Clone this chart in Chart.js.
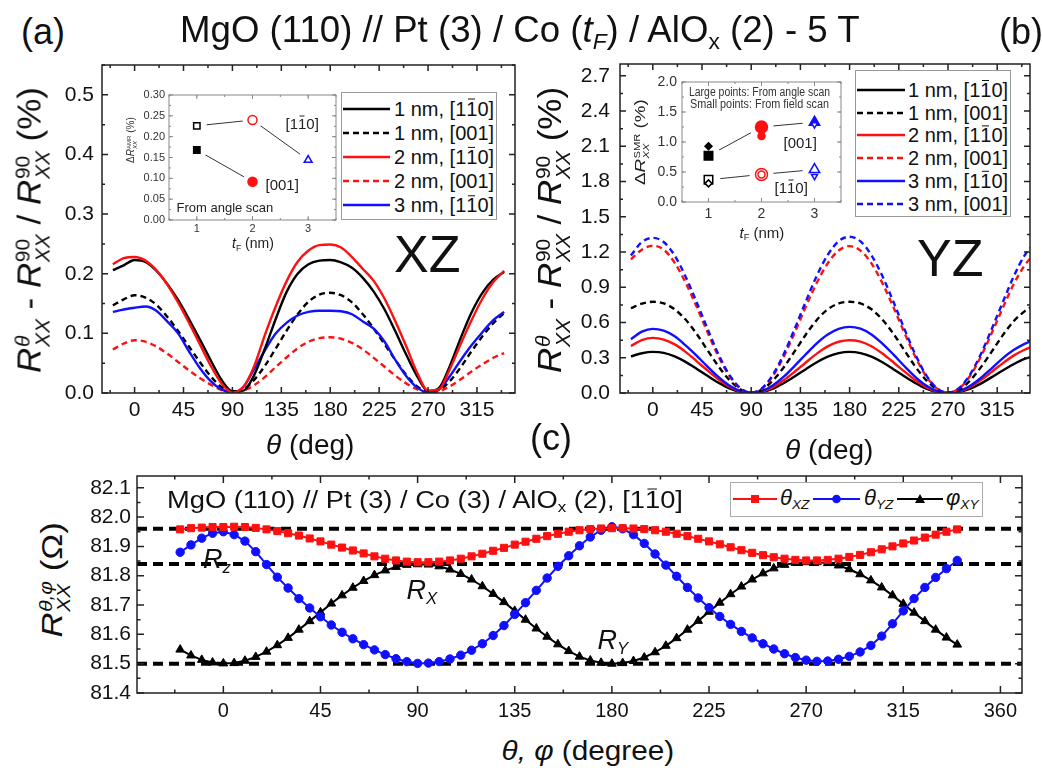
<!DOCTYPE html>
<html>
<head>
<meta charset="utf-8">
<script src="https://cdn.jsdelivr.net/npm/chart.js@4.4.1/dist/chart.umd.min.js"></script>
<style>
  html, body { margin: 0; padding: 0; background: #fff; }
  #fig { position: relative; width: 1042px; height: 768px; overflow: hidden; font-family: 'Liberation Sans', Arial, sans-serif; color: #111; }
  .cv { position: absolute; }
  .txt { position: absolute; left: 0; top: 0; white-space: nowrap; line-height: 1; transform-origin: 50% 50%; }
  .ss { display: inline-block; font-size: 0.6em; line-height: 0.95; vertical-align: -0.42em; text-align: left; margin-left: 0.03em; }
  .ss > * { display: block; }
  sub { font-size: 0.62em; vertical-align: -0.32em; line-height: 0; }
  .ov { position: relative; }
  .ov::before { content: ''; position: absolute; left: 0.1em; right: 0.1em; top: 0.07em; border-top: 0.075em solid currentColor; }
  .leg { position: absolute; background: #fff; border: 1.5px solid #999; box-sizing: border-box; }
  svg.smp { position: absolute; overflow: visible; }
</style>
</head>
<body>
<div id="fig"></div>
<script>
// ---- panel (a): XZ scan, 10 deg steps ----
var thetaA = [-20, -10, 0, 10, 20, 30, 40, 50, 60, 70, 80, 90, 100, 110, 120, 130, 140, 150, 160, 170, 180,
              190, 200, 210, 220, 230, 240, 250, 260, 270, 280, 290, 300, 310, 320, 330, 340];
var xz1nm110 = [0.206, 0.214, 0.223, 0.220, 0.205, 0.183, 0.156, 0.124, 0.090, 0.055, 0.022, 0.003, 0.004, 0.030, 0.075, 0.125, 0.170, 0.200, 0.216, 0.222, 0.223,
                0.219, 0.210, 0.193, 0.170, 0.140, 0.103, 0.064, 0.028, 0.003, 0.008, 0.045, 0.092, 0.135, 0.168, 0.190, 0.203];
var xz1nm001 = [0.147, 0.157, 0.164, 0.160, 0.148, 0.128, 0.104, 0.078, 0.052, 0.028, 0.010, 0.001, 0.006, 0.022, 0.046, 0.075, 0.105, 0.132, 0.153, 0.165, 0.168,
                0.164, 0.152, 0.132, 0.108, 0.082, 0.055, 0.030, 0.011, 0.002, 0.005, 0.020, 0.043, 0.070, 0.095, 0.117, 0.134];
var xz2nm110 = [0.216, 0.226, 0.228, 0.222, 0.206, 0.182, 0.152, 0.118, 0.082, 0.046, 0.016, 0.001, 0.010, 0.045, 0.098, 0.146, 0.188, 0.220, 0.239, 0.248, 0.249,
                0.244, 0.228, 0.208, 0.188, 0.158, 0.120, 0.078, 0.034, 0.004, 0.006, 0.040, 0.082, 0.122, 0.158, 0.186, 0.205];
var xz2nm001 = [0.073, 0.083, 0.0885, 0.086, 0.078, 0.066, 0.052, 0.038, 0.025, 0.014, 0.005, 0.001, 0.004, 0.013, 0.027, 0.044, 0.060, 0.075, 0.086, 0.092, 0.0935,
                0.091, 0.084, 0.073, 0.059, 0.044, 0.029, 0.016, 0.006, 0.001, 0.003, 0.011, 0.023, 0.036, 0.048, 0.059, 0.067];
var xz3nm110 = [0.136, 0.140, 0.143, 0.145, 0.138, 0.120, 0.100, 0.070, 0.042, 0.020, 0.006, 0.001, 0.010, 0.040, 0.072, 0.100, 0.118, 0.130, 0.136, 0.138, 0.138,
                0.137, 0.132, 0.120, 0.108, 0.086, 0.055, 0.028, 0.009, 0.001, 0.006, 0.028, 0.055, 0.080, 0.102, 0.122, 0.136];

// ---- panel (b): YZ scan ----
var thetaB = [-20, -10, 0, 10, 20, 30, 40, 50, 60, 70, 80, 90, 100, 110, 120, 130, 140, 150, 160, 170, 180,
              190, 200, 210, 220, 230, 240, 250, 260, 270, 280, 290, 300, 310, 320, 330, 340, 350];
var yz1nm110 = [0.312, 0.338, 0.350, 0.342, 0.312, 0.265, 0.207, 0.146, 0.088, 0.040, 0.010, 0.001, 0.009, 0.038, 0.085, 0.142, 0.203, 0.262, 0.310, 0.340, 0.350,
                0.340, 0.310, 0.262, 0.203, 0.142, 0.085, 0.038, 0.009, 0.001, 0.009, 0.036, 0.080, 0.135, 0.192, 0.245, 0.290, 0.318];
var yz1nm001 = [0.722, 0.760, 0.776, 0.762, 0.712, 0.625, 0.505, 0.365, 0.228, 0.112, 0.032, 0.002, 0.030, 0.108, 0.222, 0.358, 0.498, 0.622, 0.712, 0.762, 0.776,
                0.762, 0.712, 0.625, 0.505, 0.365, 0.226, 0.110, 0.030, 0.002, 0.028, 0.105, 0.218, 0.352, 0.490, 0.610, 0.695, 0.750];
var yz2nm110 = [0.400, 0.450, 0.469, 0.455, 0.414, 0.350, 0.272, 0.192, 0.116, 0.053, 0.013, 0.001, 0.012, 0.050, 0.110, 0.183, 0.260, 0.335, 0.397, 0.436, 0.449,
                0.437, 0.398, 0.336, 0.262, 0.184, 0.110, 0.050, 0.012, 0.001, 0.012, 0.050, 0.110, 0.180, 0.252, 0.318, 0.368, 0.405];
var yz2nm001 = [1.137, 1.220, 1.253, 1.220, 1.108, 0.940, 0.736, 0.518, 0.313, 0.146, 0.038, 0.002, 0.038, 0.147, 0.314, 0.518, 0.735, 0.938, 1.104, 1.213, 1.250,
                1.212, 1.103, 0.935, 0.732, 0.515, 0.310, 0.144, 0.037, 0.002, 0.037, 0.143, 0.308, 0.510, 0.722, 0.925, 1.085, 1.195];
var yz3nm110 = [0.458, 0.522, 0.546, 0.530, 0.482, 0.405, 0.318, 0.225, 0.137, 0.064, 0.017, 0.001, 0.017, 0.066, 0.141, 0.233, 0.330, 0.422, 0.497, 0.546, 0.563,
                0.547, 0.498, 0.420, 0.328, 0.230, 0.138, 0.064, 0.016, 0.001, 0.015, 0.060, 0.128, 0.210, 0.295, 0.365, 0.418, 0.458];
var yz3nm001 = [1.170, 1.285, 1.320, 1.285, 1.170, 0.990, 0.775, 0.548, 0.330, 0.155, 0.042, 0.003, 0.042, 0.158, 0.335, 0.552, 0.780, 0.998, 1.175, 1.292, 1.330,
                1.290, 1.172, 0.995, 0.778, 0.548, 0.330, 0.152, 0.040, 0.003, 0.040, 0.155, 0.330, 0.545, 0.770, 0.990, 1.170, 1.280];

// ---- panel (c): 3 nm, [1-10], 5 deg steps ----
var thetaC = [-20, -15, -10, -5, 0, 5, 10, 15, 20, 25, 30, 35, 40, 45, 50, 55, 60, 65, 70, 75, 80, 85, 90,
              95, 100, 105, 110, 115, 120, 125, 130, 135, 140, 145, 150, 155, 160, 165, 170, 175, 180,
              185, 190, 195, 200, 205, 210, 215, 220, 225, 230, 235, 240, 245, 250, 255, 260, 265, 270,
              275, 280, 285, 290, 295, 300, 305, 310, 315, 320, 325, 330, 335, 340];
var rThetaXZ = [81.958, 81.962, 81.964, 81.966, 81.966, 81.967, 81.966, 81.963, 81.958, 81.952, 81.945, 81.937, 81.927, 81.917, 81.906, 81.896, 81.886, 81.876, 81.866, 81.858, 81.852, 81.848, 81.846,
                81.846, 81.848, 81.852, 81.858, 81.866, 81.875, 81.885, 81.895, 81.906, 81.916, 81.926, 81.935, 81.943, 81.950, 81.955, 81.959, 81.961, 81.962,
                81.962, 81.961, 81.959, 81.955, 81.950, 81.943, 81.935, 81.926, 81.917, 81.907, 81.897, 81.887, 81.878, 81.870, 81.863, 81.858, 81.854, 81.852,
                81.852, 81.854, 81.858, 81.864, 81.871, 81.880, 81.890, 81.900, 81.910, 81.920, 81.930, 81.940, 81.950, 81.958];
var rThetaYZ = [81.880, 81.905, 81.928, 81.945, 81.950, 81.940, 81.918, 81.882, 81.838, 81.795, 81.758, 81.722, 81.690, 81.660, 81.632, 81.607, 81.585, 81.565, 81.547, 81.531, 81.517, 81.507, 81.501,
                81.502, 81.507, 81.516, 81.529, 81.546, 81.568, 81.596, 81.630, 81.668, 81.708, 81.750, 81.792, 81.832, 81.868, 81.902, 81.932, 81.955, 81.967,
                81.960, 81.940, 81.910, 81.874, 81.836, 81.798, 81.760, 81.724, 81.691, 81.661, 81.634, 81.610, 81.588, 81.568, 81.550, 81.534, 81.521, 81.512,
                81.508, 81.509, 81.515, 81.525, 81.540, 81.562, 81.594, 81.636, 81.680, 81.722, 81.760, 81.794, 81.824, 81.852];
var rPhiXY = [81.548, 81.528, 81.513, 81.504, 81.501, 81.502, 81.510, 81.523, 81.541, 81.563, 81.588, 81.616, 81.645, 81.675, 81.705, 81.733, 81.759, 81.782, 81.802, 81.818, 81.830, 81.837, 81.839,
              81.838, 81.832, 81.821, 81.806, 81.787, 81.764, 81.738, 81.710, 81.680, 81.650, 81.620, 81.592, 81.566, 81.543, 81.524, 81.511, 81.503, 81.500,
              81.502, 81.509, 81.521, 81.539, 81.561, 81.587, 81.616, 81.646, 81.677, 81.708, 81.737, 81.763, 81.787, 81.808, 81.825, 81.837, 81.844, 81.846,
              81.846, 81.843, 81.835, 81.822, 81.805, 81.784, 81.760, 81.733, 81.704, 81.674, 81.645, 81.616, 81.589, 81.565];
var refLevels = [81.96, 81.84, 81.50];   // R_z, R_x, R_y

// ---- insets ----
var insetTF = [1, 2, 3];
var amr110 = [0.226, 0.240, 0.144];
var amr001 = [0.168, 0.092];
var smrAngle001 = [0.77, 1.25, 1.33];
var smrField001 = [0.93, 1.10, 1.29];
var smrAngle110 = [0.37, 0.46, 0.54];
var smrField110 = [0.31, 0.46, 0.43];

// ---- ticks ----
var thetaTicksAB = [0, 45, 90, 135, 180, 225, 270, 315];
var thetaTicksC = [0, 45, 90, 135, 180, 225, 270, 315, 360];
var yTicksA = [0, 0.1, 0.2, 0.3, 0.4, 0.5];
var yTicksB = [0, 0.3, 0.6, 0.9, 1.2, 1.5, 1.8, 2.1, 2.4, 2.7];
var yTicksC = [81.4, 81.5, 81.6, 81.7, 81.8, 81.9, 82.0, 82.1];
var tfTicks = [1, 2, 3];
var yTicksInsA = [0, 0.05, 0.10, 0.15, 0.20, 0.25, 0.30];
var yTicksInsB = [0, 0.5, 1.0, 1.5, 2.0];

var RED = '#ff1010', BLUE = '#1010ff', BLK = '#000';
var FONT = "'Liberation Sans', Arial, sans-serif";
var fig = document.getElementById('fig');

function pts(xs, ys) {
    return ys.map(function(y, i) { return { x: xs[i], y: y }; });
}

// frame with inward major/minor ticks on all four sides
var frameTicks = {
    id: 'frameTicks',
    afterDatasetsDraw: function(chart, args, o) {
        var ctx = chart.ctx, a = chart.chartArea;
        ctx.save();
        ctx.strokeStyle = o.color;
        ctx.lineWidth = o.width;
        ctx.beginPath();
        var mark = function(scale, step, len) {
            var first = scale.ticks[0].value;
            var v = first - Math.floor((first - scale.min) / step + 1e-6) * step;
            for (; v <= scale.max + 1e-9; v += step) {
                var p = scale.getPixelForValue(v);
                if (scale.isHorizontal()) {
                    ctx.moveTo(p, a.bottom); ctx.lineTo(p, a.bottom - len);
                    ctx.moveTo(p, a.top); ctx.lineTo(p, a.top + len);
                } else {
                    ctx.moveTo(a.left, p); ctx.lineTo(a.left + len, p);
                    ctx.moveTo(a.right, p); ctx.lineTo(a.right - len, p);
                }
            }
        };
        [chart.scales.x, chart.scales.y].forEach(function(s) {
            var step = s.ticks[1].value - s.ticks[0].value;
            mark(s, step, o.len);
            mark(s, step / 2, o.minorLen);
        });
        ctx.stroke();
        ctx.strokeRect(a.left, a.top, a.right - a.left, a.bottom - a.top);
        ctx.restore();
    }
};

function makeChart(box, datasets, c) {
    var cv = document.createElement('canvas');
    cv.width = box.w; cv.height = box.h;
    cv.className = 'cv';
    cv.style.left = box.x + 'px'; cv.style.top = box.y + 'px';
    fig.appendChild(cv);
    return new Chart(cv, {
        type: 'line',
        data: { datasets: datasets },
        options: {
            responsive: false, animation: false, events: [],
            layout: { padding: c.pad },
            plugins: { legend: { display: false }, tooltip: { enabled: false }, frameTicks: c.frame },
            scales: {
                x: {
                    type: 'linear', min: c.xMin, max: c.xMax,
                    grid: { display: false, drawTicks: false }, border: { display: false },
                    ticks: { padding: c.xPad, font: { family: FONT, size: c.xFont }, color: c.tickColor || '#111', maxRotation: 0, autoSkip: false,
                             callback: function(v) { return c.xFmt ? c.xFmt(v) : String(v); } },
                    afterBuildTicks: function(s) { s.ticks = c.xTicks.map(function(v) { return { value: v }; }); },
                    afterFit: function(s) { s.height = c.xH; s.paddingLeft = 0; s.paddingRight = 0; }
                },
                y: {
                    type: 'linear', min: c.yMin, max: c.yMax,
                    grid: { display: false, drawTicks: false }, border: { display: false },
                    ticks: { padding: c.yPad, font: { family: FONT, size: c.yFont }, color: c.tickColor || '#111', autoSkip: false,
                             callback: function(v) { return v.toFixed(c.yDec); } },
                    afterBuildTicks: function(s) { s.ticks = c.yTicks.map(function(v) { return { value: v }; }); },
                    afterFit: function(s) { s.width = c.yW; s.paddingTop = 0; s.paddingBottom = 0; }
                }
            }
        },
        plugins: [frameTicks]
    });
}

function curve(xs, ys, color, dashed) {
    return { data: pts(xs, ys), borderColor: color, borderWidth: 2.4, borderDash: dashed ? [6, 4] : [],
             pointRadius: 0, cubicInterpolationMode: 'monotone', fill: false };
}

var mainFrame = { color: '#222', width: 1.5, len: 6, minorLen: 3 };
var insetFrame = { color: '#888', width: 1, len: 4, minorLen: 2 };

// (a)
makeChart({ x: 40, y: 55, w: 490, h: 390 }, [
    curve(thetaA, xz2nm110, RED, false),
    curve(thetaA, xz1nm110, BLK, false),
    curve(thetaA, xz3nm110, BLUE, false),
    curve(thetaA, xz1nm001, BLK, true),
    curve(thetaA, xz2nm001, RED, true)
], { pad: { top: 10, right: 15, left: 0, bottom: 0 }, xMin: -30, xMax: 350, yMin: 0, yMax: 0.55,
     xTicks: thetaTicksAB, yTicks: yTicksA, yDec: 1, xFont: 21, yFont: 21, xPad: 5, yPad: 8, xH: 52, yW: 62, frame: mainFrame });

// (b)
makeChart({ x: 560, y: 54, w: 480, h: 391 }, [
    curve(thetaB, yz3nm001, BLUE, true),
    curve(thetaB, yz2nm001, RED, true),
    curve(thetaB, yz1nm001, BLK, true),
    curve(thetaB, yz3nm110, BLUE, false),
    curve(thetaB, yz2nm110, RED, false),
    curve(thetaB, yz1nm110, BLK, false)
], { pad: { top: 10, right: 10, left: 0, bottom: 0 }, xMin: -30, xMax: 345, yMin: 0, yMax: 2.8,
     xTicks: thetaTicksAB, yTicks: yTicksB, yDec: 1, xFont: 21, yFont: 21, xPad: 5, yPad: 10, xH: 52, yW: 60, frame: mainFrame });

// (c)
var xMinC = -40, xMaxC = 370;
var refSets = refLevels.map(function(lv) {
    return { data: [{ x: xMinC, y: lv }, { x: xMaxC, y: lv }], borderColor: BLK, borderWidth: 4, borderDash: [10, 6],
             pointRadius: 0, order: 5 };
});
function marked(ys, color, style, r) {
    return { data: pts(thetaC, ys), borderColor: color, backgroundColor: color, borderWidth: 2, tension: 0,
             pointStyle: style, pointRadius: r, pointBorderWidth: 1, pointBackgroundColor: color, order: 1 };
}
makeChart({ x: 80, y: 466, w: 952, h: 260 }, [
    marked(rThetaXZ, RED, 'rect', 5),
    marked(rThetaYZ, BLUE, 'circle', 4.2),
    marked(rPhiXY, BLK, 'triangle', 5)
].concat(refSets), { pad: { top: 10, right: 10, left: 0, bottom: 0 }, xMin: xMinC, xMax: xMaxC, yMin: 81.4, yMax: 82.14,
     xTicks: thetaTicksC, yTicks: yTicksC, yDec: 1, xFont: 20, yFont: 21, xPad: 6, yPad: 6, xH: 33, yW: 57,
     frame: { color: '#222', width: 1.5, len: 7, minorLen: 3.5 } });

// inset helpers
function markers(xs, ys, styles, colors, fill, r, rot) {
    return { data: pts(xs, ys), showLine: false, pointStyle: styles, pointRadius: r, pointBorderWidth: 1.5,
             pointBorderColor: colors, pointBackgroundColor: fill || colors, pointRotation: rot || 0, order: 0 };
}
function halo(xs, ys, r) {
    return { data: pts(xs, ys), showLine: false, pointStyle: 'circle', pointRadius: r, pointBorderWidth: 0,
             pointBackgroundColor: '#fff', order: 1 };
}
function joiner(xs, ys) {
    return { data: pts(xs, ys), borderColor: '#333', borderWidth: 1, pointRadius: 0, tension: 0, order: 2 };
}

// inset (a)
makeChart({ x: 135, y: 85, w: 211, h: 153 }, [
    markers(insetTF, amr110, ['rect', 'circle', 'triangle'], [BLK, RED, BLUE], '#fff', 4.5),
    markers(insetTF, amr001, ['rect', 'circle'], [BLK, RED], null, 4.5),
    halo(insetTF, amr110, 10), halo(insetTF, amr001, 10),
    joiner(insetTF, amr110), joiner(insetTF, amr001)
], { pad: { top: 7, right: 10, left: 0, bottom: 0 }, xMin: 0.5, xMax: 3.5, yMin: 0, yMax: 0.30,
     xTicks: tfTicks, yTicks: yTicksInsA, yDec: 2, xFont: 11, yFont: 11, xPad: 2, yPad: 4, xH: 18, yW: 34,
     tickColor: '#333', frame: insetFrame });

// inset (b)
makeChart({ x: 645, y: 70, w: 208, h: 150 }, [
    markers(insetTF, smrField001, ['rectRot', 'circle', 'triangle'], [BLK, RED, BLUE], [BLK, RED, '#fff'], 3.5, [0, 0, 180]),
    markers(insetTF, smrField110, ['rectRot', 'circle', 'triangle'], [BLK, RED, BLUE], '#fff', 3.5, [0, 0, 180]),
    markers(insetTF, smrAngle001, ['rect', 'circle', 'triangle'], [BLK, RED, BLUE], null, 6),
    markers(insetTF, smrAngle110, ['rect', 'circle', 'triangle'], [BLK, RED, BLUE], '#fff', 6),
    halo(insetTF, smrAngle001, 12), halo(insetTF, smrAngle110, 12),
    joiner(insetTF, smrAngle001), joiner(insetTF, smrAngle110)
], { pad: { top: 8, right: 10, left: 0, bottom: 0 }, xMin: 0.5, xMax: 3.5, yMin: 0, yMax: 2.0,
     xTicks: tfTicks, yTicks: yTicksInsB, yDec: 1, xFont: 14, yFont: 14, xPad: 4, yPad: 5, xH: 18, yW: 37,
     tickColor: '#333', frame: insetFrame });

// ---- text ----
function place(html, x, y, size, o) {
    o = o || {};
    var el = document.createElement('div');
    el.className = 'txt';
    el.innerHTML = html;
    el.style.fontSize = size + 'px';
    if (o.color) el.style.color = o.color;
    fig.appendChild(el);
    var w = el.offsetWidth, h = el.offsetHeight;
    var k = o.len ? o.len / w : 1;
    var cx = o.left ? x + w * k / 2 : x;
    el.style.transform = 'translate(' + (cx - w / 2) + 'px,' + (y - h / 2) + 'px) rotate(' + (o.rot || 0) + 'deg) scaleX(' + k + ')';
    return el;
}
function sample(x1, x2, cy, color, dashed, marker) {
    var ns = 'http://www.w3.org/2000/svg';
    var s = document.createElementNS(ns, 'svg');
    s.setAttribute('class', 'smp');
    s.setAttribute('width', x2 - x1); s.setAttribute('height', 14);
    s.style.left = x1 + 'px'; s.style.top = (cy - 7) + 'px';
    var ln = document.createElementNS(ns, 'line');
    ln.setAttribute('x1', 0); ln.setAttribute('x2', x2 - x1); ln.setAttribute('y1', 7); ln.setAttribute('y2', 7);
    ln.setAttribute('stroke', color); ln.setAttribute('stroke-width', marker ? 2 : 2.6);
    if (dashed) ln.setAttribute('stroke-dasharray', '6 4');
    s.appendChild(ln);
    var m = (x2 - x1) / 2, mk;
    if (marker === 'rect') {
        mk = document.createElementNS(ns, 'rect');
        mk.setAttribute('x', m - 4); mk.setAttribute('y', 3); mk.setAttribute('width', 8); mk.setAttribute('height', 8);
    } else if (marker === 'circle') {
        mk = document.createElementNS(ns, 'circle');
        mk.setAttribute('cx', m); mk.setAttribute('cy', 7); mk.setAttribute('r', 4.3);
    } else if (marker === 'triangle') {
        mk = document.createElementNS(ns, 'polygon');
        mk.setAttribute('points', (m - 5) + ',11 ' + (m + 5) + ',11 ' + m + ',2');
    }
    if (mk) { mk.setAttribute('fill', color); s.appendChild(mk); }
    fig.appendChild(s);
}
function box(l, t, w, h, border) {
    var d = document.createElement('div');
    d.className = 'leg';
    d.style.left = l + 'px'; d.style.top = t + 'px'; d.style.width = w + 'px'; d.style.height = h + 'px';
    if (border) d.style.borderColor = border;
    fig.appendChild(d);
}

var L110 = '[1<span class="ov">1</span>0]';
var legRows = [
    ['1 nm, ' + L110, BLK, false], ['1 nm, [001]', BLK, true],
    ['2 nm, ' + L110, RED, false], ['2 nm, [001]', RED, true],
    ['3 nm, ' + L110, BLUE, false], ['3 nm, [001]', BLUE, true]
];

// legend (a)
box(341, 92, 156, 128);
legRows.slice(0, 5).forEach(function(r, i) {
    var cy = 108.5 + i * 24.2;
    sample(343, 390, cy, r[1], r[2]);
    place(r[0], 394, cy, 20, { left: true });
});
// legend (b)
box(855, 70, 156, 147);
legRows.forEach(function(r, i) {
    var cy = 90 + i * 22.7;
    sample(857, 905, cy, r[1], r[2]);
    place(r[0], 908, cy, 20, { left: true });
});
// legend (c)
box(730, 482, 253, 35, '#aaa');
sample(733, 777, 499, RED, false, 'rect');
place('<i>θ</i><sub><i>XZ</i></sub>', 780, 498, 22, { left: true });
sample(813, 860, 499, BLUE, false, 'circle');
place('<i>θ</i><sub><i>YZ</i></sub>', 864, 498, 22, { left: true });
sample(897, 943, 499, BLK, false, 'triangle');
place('<i>φ</i><sub><i>XY</i></sub>', 946, 498, 22, { left: true });

// titles
place('(a)', 43, 32, 36);
place('MgO (110) // Pt (3) / Co (<i>t</i><sub><i>F</i></sub>) / AlO<sub>x</sub> (2) - 5 T', 520, 30, 36, { len: 680 });
place('(b)', 1021, 32, 36);
place('(c)', 551, 438, 36);
place('XZ', 427, 254, 52);
place('YZ', 950, 258, 52);

var yTitleAB = '<i>R</i><span class="ss"><i>θ</i><i>XX</i></span> - <i>R</i><span class="ss"><span>90</span><i>XX</i></span> / <i>R</i><span class="ss"><span>90</span><i>XX</i></span> (%)';
place(yTitleAB, 32, 230, 34, { rot: -90, len: 286 });
place(yTitleAB, 552, 230, 34, { rot: -90, len: 286 });
place('<i>θ</i> (deg)', 310, 445, 28);
place('<i>θ</i> (deg)', 829, 450, 28);

place('<i>R</i><span class="ss"><i>θ,φ</i><i>XX</i></span> (Ω)', 55, 580, 30, { rot: -90, len: 115 });
place('<i>θ, φ</i> (degree)', 588, 751, 28, { len: 173 });
place('MgO (110) // Pt (3) / Co (3) / AlO<sub>x</sub> (2), ' + L110, 425, 500, 23, { len: 516 });
place('<i>R</i><sub><i>z</i></sub>', 217, 559, 27);
place('<i>R</i><sub><i>X</i></sub>', 422, 590, 27);
place('<i>R</i><sub><i>Y</i></sub>', 613, 640, 27);

// inset (a) text
place(L110, 302, 123, 15, { color: '#222' });
place('[001]', 282, 184, 15, { color: '#222' });
place('From angle scan', 225, 207, 13, { color: '#222' });
place('<i>t</i><sub>F</sub> (nm)', 253, 243, 14, { color: '#222' });
place('Δ<i>R</i><span class="ss"><span>AMR</span><i>XX</i></span> (%)', 132, 140, 10, { rot: -90, color: '#333' });

// inset (b) text
place('Large points: From angle scan', 759.5, 92, 12, { len: 141, color: '#333' });
place('Small points: From field scan', 759.5, 103.5, 12, { len: 139, color: '#333' });
place('[001]', 800, 142, 15, { color: '#222' });
place(L110, 791, 187, 15, { color: '#222' });
place('<i>t</i><sub>F</sub> (nm)', 762, 232, 15, { color: '#222' });
place('Δ<i>R</i><span class="ss"><span>SMR</span><i>XX</i></span> (%)', 641, 142, 15, { rot: -90, len: 86, color: '#222' });
</script>
</body>
</html>
